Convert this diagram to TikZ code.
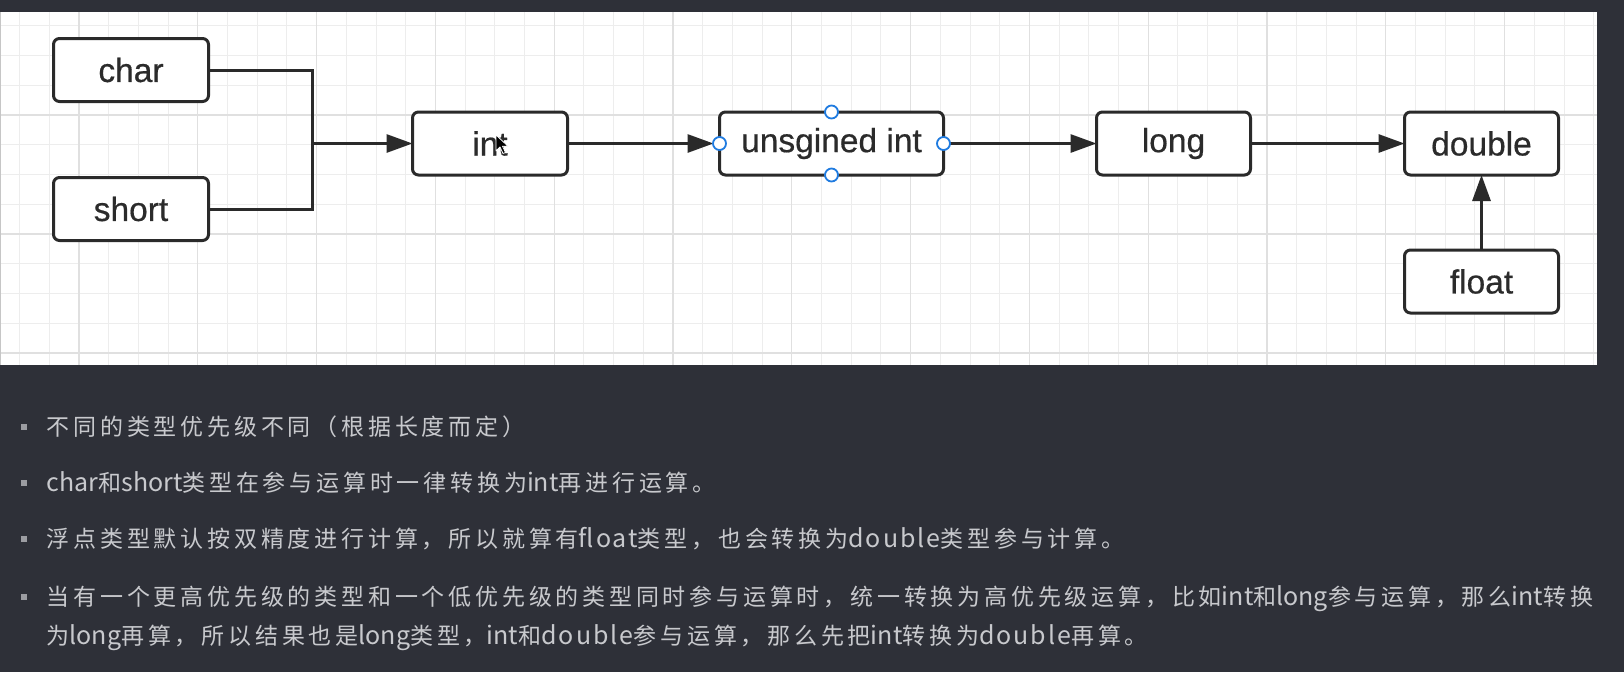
\documentclass[tikz,border=0pt]{standalone}
\usepackage{fontspec}
\setmainfont{Liberation Sans}
\newfontfamily\lblfont[FakeBold=0.5]{Liberation Sans}
\newfontfamily\cjk[LetterSpace=16.5]{Noto Sans CJK SC}
\newfontfamily\cjklat{Noto Sans CJK SC}
\newfontfamily\cjklatw[LetterSpace=8]{Noto Sans CJK SC}
\newcommand\latw[1]{{\cjklat\fontsize{25}{27}\selectfont #1}}
\newcommand\latd[1]{{\cjklatw\fontsize{25}{27}\selectfont #1}}
\usetikzlibrary{arrows.meta}
\definecolor{bgdark}{HTML}{2E3038}
\definecolor{gridminor}{HTML}{EDEDED}
\definecolor{gridmajor}{HTML}{E0E0E0}
\definecolor{boxline}{HTML}{2A2A2A}
\definecolor{labeltext}{HTML}{2B2B2B}
\definecolor{handleblue}{HTML}{1F7BE0}
\definecolor{textgray}{HTML}{C8C9CD}
\definecolor{bulletgray}{HTML}{9C9DA2}
\tikzset{
  typebox/.style={draw=boxline, line width=3pt, rounded corners=6pt, fill=white,
    minimum height=63pt, inner sep=0pt, outer sep=0pt, text=labeltext,
    font=\lblfont\fontsize{33.5}{38}\selectfont},
  conn/.style={draw=boxline, line width=3pt},
  arr/.style={conn, -{Triangle[length=26pt,width=18pt]}},
  handle/.style={draw=handleblue, line width=1.8pt, fill=white},
  txt/.style={anchor=base west, inner sep=0pt, text=textgray,
    font=\cjk\fontsize{23}{27}\selectfont},
  bullet/.style={fill=bulletgray, minimum size=6.5pt, inner sep=0pt, draw=none}
}
\begin{document}
\begin{tikzpicture}[x=1pt,y=-1pt]
\useasboundingbox (0,0) rectangle (1624,672);
\fill[bgdark] (0,0) rectangle (1624,672);
% panel
\fill[white] (0,12) rectangle (1597,365);
\begin{scope}
  \clip (0,12) rectangle (1597,365);
  \foreach \i in {-3,...,51} {
    \draw[gridminor, line width=1pt] ({79+29.7*\i},12) -- ({79+29.7*\i},365);
  }
  \foreach \j in {-3,...,9} {
    \draw[gridminor, line width=1pt] (0,{115+29.75*\j}) -- (1597,{115+29.75*\j});
  }
  \foreach \i in {0,...,12} {
    \draw[gridmajor, line width=1.3pt] ({79+118.8*\i},12) -- ({79+118.8*\i},365);
  }
  \foreach \j in {0,1,2} {
    \draw[gridmajor, line width=1.3pt] (0,{115+119*\j}) -- (1597,{115+119*\j});
  }
\end{scope}
\draw[gray!45, line width=1pt] (0.5,12) -- (0.5,365);

% nodes
\node[typebox, minimum width=155pt] (char) at (131,70) {char};
\node[typebox, minimum width=155pt] (short) at (131,209) {short};
\node[typebox, minimum width=155pt] (int) at (490,143.5) {int};
\node[typebox, minimum width=224pt] (uint) at (831.5,143.5) {unsgined int};
\node[typebox, minimum width=154pt] (long) at (1173.5,143.5) {long};
\node[typebox, minimum width=154pt] (double) at (1481.5,143.5) {double};
\node[typebox, minimum width=154pt] (float) at (1481.5,281.5) {float};

% connectors
\coordinate (jtop) at (312,70);
\coordinate (jbot) at (312,209);
\coordinate (jmid) at (312,143.5);
\draw[conn] (char.east) -- (jtop) -- (jbot) -- (short.east);
\draw[arr] (jmid) -- (int.west);
\draw[arr, shorten >=6pt] (int.east) -- (uint.west);
\draw[arr] (uint.east) -- (long.west);
\draw[arr] (long.east) -- (double.west);
\draw[arr] (float.north) -- (double.south);

% selection handles
\foreach \a in {north,south,east,west} {
  \draw[handle] (uint.\a) circle (6.5pt);
}

% mouse cursor
\fill[black, draw=white, line width=0.8pt, line join=round]
  (496,135) -- ++(0,16) -- ++(4,-4) -- ++(3,6.5) -- ++(2.5,-1) -- ++(-3,-6.3) -- ++(5.5,0) -- cycle;

% bullet list
\node[bullet] (b1) at (24,427) {};
\node[bullet] (b2) at (24,483) {};
\node[bullet] (b3) at (24,539) {};
\node[bullet] (b4) at (24,597) {};
\node[txt] (t1) at (46.5,435.5) {不同的类型优先级不同（根据长度而定）};
\node[txt] (t2) at (46.5,491.5) {\latw{char}和\latw{short}类型在参与运算时一律转换为\latw{int}再进行运算。};
\node[txt] (t3) at (46.5,547.5) {浮点类型默认按双精度进行计算，所以就算有\latd{float}类型，也会转换为\latd{double}类型参与计算。};
\node[txt] (t4) at (46.5,605.5) {当有一个更高优先级的类型和一个低优先级的类型同时参与运算时，统一转换为高优先级运算，比如\latw{int}和\latw{long}参与运算，那么\latw{int}转换};
\node[txt] (t5) at (46.5,644.5) {为\latw{long}再算，所以结果也是\latw{long}类型，\latw{int}和\latd{double}参与运算，那么先把\latw{int}转换为\latd{double}再算。};
\end{tikzpicture}
\end{document}
